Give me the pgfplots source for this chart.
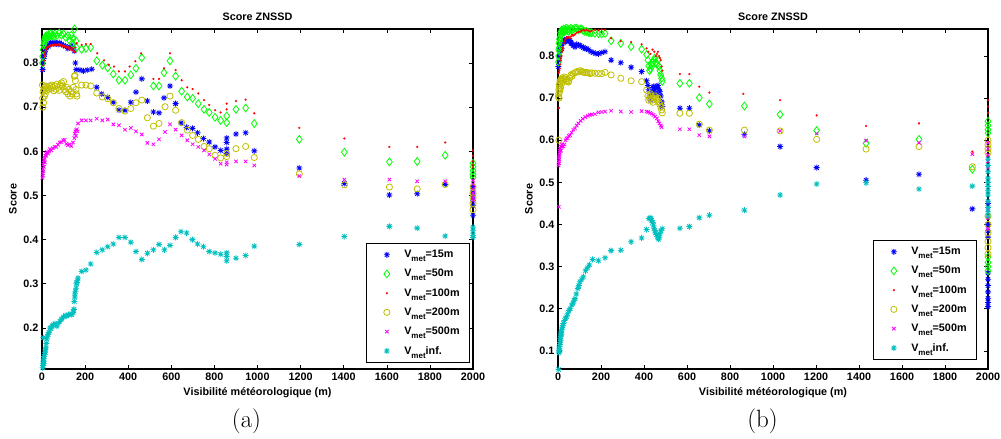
\documentclass[border=0pt]{standalone}
\usepackage{fontspec}
\usepackage{pgfplots}
\pgfplotsset{compat=1.18}
\newfontfamily\lsans{Liberation Sans}
\newcommand\cf{\lsans\bfseries\fontsize{10.8bp}{13bp}\selectfont}
\newcommand\met{\raisebox{-4bp}{\fontsize{8bp}{9bp}\selectfont met}}
\definecolor{myyel}{rgb}{0.75,0.75,0}
\definecolor{mycyan}{rgb}{0,0.75,0.75}
\definecolor{mgreen}{rgb}{0,1,0}
\definecolor{mmag}{rgb}{1,0,1}
\definecolor{mblue}{rgb}{0,0,1}
\definecolor{mred}{rgb}{1,0,0}
\pgfdeclareplotmark{mstar}{%
 \pgfpathmoveto{\pgfqpoint{-\pgfplotmarksize}{0pt}}\pgfpathlineto{\pgfqpoint{\pgfplotmarksize}{0pt}}%
 \pgfpathmoveto{\pgfqpoint{0pt}{-\pgfplotmarksize}}\pgfpathlineto{\pgfqpoint{0pt}{\pgfplotmarksize}}%
 \pgfpathmoveto{\pgfqpoint{-.707\pgfplotmarksize}{-.707\pgfplotmarksize}}\pgfpathlineto{\pgfqpoint{.707\pgfplotmarksize}{.707\pgfplotmarksize}}%
 \pgfpathmoveto{\pgfqpoint{-.707\pgfplotmarksize}{.707\pgfplotmarksize}}\pgfpathlineto{\pgfqpoint{.707\pgfplotmarksize}{-.707\pgfplotmarksize}}%
 \pgfusepathqstroke}
\pgfplotsset{
 myimg/.style={legend image code/.code={\path (0bp,0bp) (27bp,0bp); \draw[##1] plot coordinates {(12bp,0bp)};}},
 mstyle/.style={
  scale only axis, height=340bp, anchor=south west,
  xmin=0, xmax=2000, enlargelimits=false, clip=false,
  xtick={0,200,400,600,800,1000,1200,1400,1600,1800,2000},
  tick align=inside, xtick pos=both, ytick pos=both,
  xticklabel pos=lower, yticklabel pos=left,
  major tick length=4bp,
  axis line style={line width=1.1bp, black},
  tick style={line width=0.6bp, black},
  ticklabel style={font=\cf},
  xticklabel style={/pgf/number format/set thousands separator={}, /pgf/number format/assume math mode=true},
  yticklabel style={/pgf/number format/fixed, /pgf/number format/precision=1, /pgf/number format/fixed zerofill, /pgf/number format/assume math mode=true},
  title={Score ZNSSD}, title style={font=\cf, yshift=-1.5bp},
  xlabel={Visibilité météorologique (m)}, ylabel={Score},
  label style={font=\cf},
  xlabel style={yshift=-1bp},
  legend style={font=\cf, draw=black, line width=0.8bp, at={(1,0)}, anchor=south east,
     inner xsep=8bp, inner ysep=5bp, row sep=6.2bp, cells={anchor=west}},
 },
 s15/.style={only marks, myimg, mark=mstar, mark size=3bp, mblue, mark options={line width=0.8bp}},
 s50/.style={only marks, myimg, mark=diamond, mark size=3.9bp, mgreen, mark options={line width=0.8bp}},
 s100/.style={only marks, myimg, mark=*, mark size=1bp, mred, mark options={fill=mred, draw=mred, line width=0.2bp}},
 s200/.style={only marks, myimg, mark=o, mark size=3.1bp, myyel, mark options={line width=0.8bp}},
 s500/.style={only marks, myimg, mark=x, mark size=2.4bp, mmag, mark options={line width=0.8bp}},
 sinf/.style={only marks, myimg, mark=mstar, mark size=3bp, mycyan, mark options={line width=0.8bp}},
}
\begin{document}
\begin{tikzpicture}
\useasboundingbox (0,0) rectangle (1001bp,439bp);
% ---------------- panel (a) ----------------
\begin{axis}[mstyle, at={(42bp,70bp)}, width=431bp, ymin=0.107, ymax=0.877,
 ytick={0.2,0.3,0.4,0.5,0.6,0.7,0.8},
 legend style={xshift=-3bp, yshift=6bp}]
\addplot[s15] table[row sep=\\] {x y\\
3 0.785\\5 0.80\\7 0.81\\9 0.815\\11 0.82\\13 0.825\\16 0.83\\19 0.835\\22 0.836\\26 0.84\\30 0.838\\35 0.842\\40 0.845\\45 0.843\\50 0.846\\55 0.844\\60 0.847\\65 0.843\\70 0.845\\75 0.842\\80 0.846\\90 0.843\\100 0.840\\110 0.838\\120 0.833\\130 0.836\\136 0.84\\143 0.835\\150 0.827\\155 0.80\\159 0.785\\
176 0.784\\192 0.782\\210 0.784\\231 0.786\\254 0.745\\277 0.730\\305 0.722\\331 0.711\\357 0.693\\385 0.693\\412 0.711\\436 0.734\\463 0.764\\489 0.714\\517 0.689\\543 0.687\\566 0.721\\594 0.748\\620 0.708\\645 0.664\\671 0.654\\698 0.652\\722 0.642\\749 0.629\\776 0.621\\803 0.610\\829 0.602\\857 0.630\\857 0.620\\857 0.605\\857 0.595\\900 0.639\\945 0.642\\985 0.601\\1194 0.562\\1403 0.527\\1612 0.501\\1741 0.504\\1871 0.525\\
2000 0.52\\2000 0.51\\2000 0.50\\2000 0.489\\2000 0.477\\2000 0.455\\};
\addlegendentry{V\met=15m}
\addplot[s50] table[row sep=\\] {x y\\
2 0.80\\3 0.815\\5 0.83\\7 0.84\\9 0.85\\11 0.845\\13 0.855\\16 0.86\\19 0.855\\22 0.862\\26 0.858\\30 0.864\\35 0.86\\40 0.866\\45 0.861\\50 0.864\\55 0.86\\60 0.866\\70 0.862\\80 0.868\\90 0.863\\100 0.866\\110 0.858\\120 0.862\\130 0.85\\136 0.863\\140 0.845\\145 0.855\\151 0.877\\158 0.85\\160 0.835\\
184 0.831\\204 0.833\\226 0.835\\254 0.805\\280 0.795\\305 0.789\\331 0.775\\357 0.761\\385 0.761\\412 0.773\\436 0.788\\463 0.812\\517 0.748\\543 0.748\\566 0.778\\594 0.805\\620 0.770\\648 0.736\\674 0.723\\699 0.720\\725 0.708\\752 0.695\\776 0.688\\803 0.677\\829 0.670\\857 0.680\\857 0.665\\900 0.695\\945 0.698\\985 0.663\\1194 0.627\\1403 0.598\\1612 0.576\\1741 0.577\\1871 0.591\\
2000 0.573\\2000 0.565\\2000 0.556\\2000 0.548\\2000 0.541\\};
\addlegendentry{V\met=50m}
\addplot[s100] table[row sep=\\] {x y\\
5 0.783\\7 0.795\\9 0.805\\11 0.815\\13 0.82\\15 0.825\\18 0.83\\21 0.833\\25 0.836\\30 0.837\\35 0.838\\40 0.84\\45 0.839\\50 0.841\\55 0.84\\60 0.842\\65 0.84\\70 0.842\\75 0.841\\80 0.843\\85 0.84\\90 0.842\\95 0.838\\100 0.84\\105 0.837\\110 0.838\\115 0.835\\120 0.836\\125 0.832\\130 0.835\\135 0.83\\140 0.833\\145 0.828\\150 0.825\\155 0.835\\160 0.845\\
184 0.841\\204 0.843\\226 0.843\\256 0.822\\288 0.806\\310 0.796\\334 0.792\\357 0.781\\385 0.781\\407 0.792\\433 0.804\\460 0.822\\517 0.764\\543 0.764\\566 0.788\\594 0.822\\620 0.784\\648 0.761\\674 0.745\\699 0.741\\725 0.731\\752 0.716\\776 0.705\\803 0.693\\829 0.688\\857 0.708\\857 0.695\\900 0.714\\945 0.717\\985 0.686\\1194 0.653\\1403 0.629\\1612 0.610\\1741 0.610\\1871 0.620\\
2000 0.602\\2000 0.590\\2000 0.578\\2000 0.570\\2000 0.564\\};
\addlegendentry{V\met=100m}
\addplot[s200] table[row sep=\\] {x y\\
2 0.75\\3 0.72\\4 0.70\\5 0.735\\7 0.71\\9 0.74\\11 0.725\\13 0.745\\15 0.73\\18 0.748\\21 0.738\\25 0.745\\30 0.74\\35 0.748\\40 0.742\\45 0.75\\50 0.745\\55 0.737\\60 0.748\\65 0.74\\70 0.752\\75 0.745\\80 0.738\\85 0.75\\90 0.755\\95 0.748\\100 0.758\\105 0.74\\110 0.735\\115 0.745\\120 0.73\\125 0.74\\130 0.725\\135 0.735\\140 0.73\\145 0.745\\150 0.77\\153 0.772\\155 0.76\\158 0.74\\160 0.73\\162 0.725\\
184 0.750\\204 0.750\\226 0.748\\254 0.732\\280 0.723\\305 0.719\\331 0.710\\357 0.697\\385 0.691\\412 0.697\\436 0.710\\463 0.716\\489 0.676\\517 0.657\\543 0.663\\571 0.701\\594 0.725\\620 0.693\\648 0.665\\674 0.648\\699 0.636\\725 0.627\\752 0.611\\776 0.606\\803 0.591\\829 0.585\\857 0.595\\857 0.588\\900 0.606\\945 0.611\\985 0.586\\1194 0.549\\1403 0.524\\1612 0.519\\1741 0.515\\1871 0.525\\
2000 0.519\\2000 0.505\\2000 0.495\\2000 0.482\\2000 0.468\\};
\addlegendentry{V\met=200m}
\addplot[s500] table[row sep=\\] {x y\\
2 0.54\\3 0.55\\4 0.545\\5 0.56\\6 0.57\\7 0.555\\8 0.575\\9 0.565\\10 0.58\\12 0.585\\14 0.575\\16 0.59\\18 0.595\\20 0.59\\24 0.598\\28 0.595\\32 0.60\\36 0.605\\43 0.602\\50 0.607\\58 0.61\\66 0.61\\74 0.615\\82 0.62\\90 0.621\\98 0.625\\105 0.626\\113 0.617\\120 0.614\\128 0.616\\136 0.612\\144 0.62\\150 0.63\\152 0.64\\155 0.645\\157 0.635\\159 0.648\\162 0.65\\165 0.645\\167 0.663\\
184 0.670\\204 0.670\\226 0.670\\254 0.674\\280 0.670\\305 0.672\\331 0.661\\357 0.659\\385 0.649\\412 0.653\\436 0.645\\463 0.638\\489 0.619\\517 0.616\\543 0.627\\571 0.644\\594 0.661\\620 0.649\\648 0.636\\674 0.625\\699 0.616\\725 0.610\\752 0.602\\776 0.593\\803 0.583\\829 0.572\\857 0.575\\857 0.570\\900 0.577\\945 0.577\\985 0.568\\1194 0.544\\1403 0.536\\1612 0.536\\1741 0.532\\1871 0.532\\
2000 0.534\\2000 0.525\\2000 0.515\\2000 0.505\\2000 0.495\\2000 0.489\\};
\addlegendentry{V\met=500m}
\addplot[sinf] table[row sep=\\] {x y\\
3 0.11\\4 0.12\\5 0.115\\6 0.178\\7 0.125\\8 0.13\\9 0.12\\10 0.135\\12 0.14\\14 0.145\\16 0.15\\18 0.155\\20 0.165\\22 0.175\\25 0.18\\28 0.185\\32 0.19\\37 0.20\\42 0.198\\47 0.205\\53 0.207\\60 0.21\\68 0.204\\75 0.21\\83 0.215\\91 0.220\\100 0.225\\108 0.228\\115 0.227\\123 0.23\\130 0.231\\138 0.230\\145 0.235\\148 0.242\\150 0.26\\152 0.27\\153 0.277\\155 0.283\\158 0.29\\160 0.30\\162 0.303\\164 0.307\\167 0.313\\
184 0.328\\204 0.331\\226 0.345\\254 0.371\\280 0.377\\305 0.384\\331 0.390\\357 0.405\\385 0.405\\412 0.394\\436 0.373\\463 0.355\\489 0.369\\517 0.377\\543 0.389\\568 0.377\\594 0.387\\620 0.405\\645 0.418\\671 0.415\\698 0.400\\722 0.390\\749 0.384\\776 0.373\\803 0.370\\829 0.367\\857 0.370\\857 0.362\\857 0.352\\900 0.358\\945 0.364\\985 0.385\\1194 0.389\\1403 0.407\\1612 0.430\\1741 0.426\\1871 0.408\\
2000 0.428\\2000 0.42\\2000 0.41\\2000 0.405\\};
\addlegendentry{V\met inf.}
\end{axis}
% ---------------- panel (b) ----------------
\begin{axis}[mstyle, at={(558bp,70bp)}, width=430bp, ymin=0.057, ymax=0.864,
 ytick={0.1,0.2,0.3,0.4,0.5,0.6,0.7,0.8},
 legend style={xshift=-11bp, yshift=9bp}]
\addplot[s15] table[row sep=\\] {x y\\
2 0.775\\4 0.79\\6 0.80\\8 0.81\\10 0.815\\13 0.825\\17 0.817\\20 0.83\\25 0.835\\30 0.838\\33 0.833\\40 0.84\\45 0.838\\50 0.835\\56 0.837\\60 0.83\\64 0.829\\70 0.825\\79 0.821\\87 0.828\\95 0.826\\102 0.825\\110 0.822\\118 0.82\\125 0.818\\133 0.817\\141 0.815\\153 0.81\\164 0.808\\176 0.806\\188 0.805\\203 0.808\\219 0.810\\
247 0.790\\292 0.784\\340 0.773\\389 0.763\\412 0.741\\418 0.73\\422 0.72\\426 0.705\\430 0.695\\434 0.70\\438 0.715\\442 0.725\\446 0.728\\450 0.72\\455 0.71\\460 0.725\\465 0.73\\470 0.72\\474 0.715\\478 0.705\\482 0.691\\485 0.68\\567 0.676\\611 0.676\\657 0.636\\704 0.622\\867 0.614\\1033 0.585\\1203 0.535\\1433 0.505\\1679 0.519\\1927 0.437\\
2000 0.45\\2000 0.40\\2000 0.385\\2000 0.37\\2000 0.285\\2000 0.27\\2000 0.255\\2000 0.24\\2000 0.225\\2000 0.215\\2000 0.205\\};
\addlegendentry{V\met=15m}
\addplot[s50] table[row sep=\\] {x y\\
2 0.786\\3 0.80\\4 0.815\\5 0.83\\6 0.82\\7 0.84\\8 0.835\\9 0.81\\10 0.845\\12 0.855\\14 0.85\\16 0.858\\18 0.862\\20 0.855\\23 0.86\\26 0.864\\30 0.858\\34 0.862\\38 0.866\\42 0.86\\46 0.864\\50 0.858\\55 0.862\\60 0.866\\65 0.86\\70 0.864\\78 0.866\\87 0.866\\95 0.862\\103 0.864\\110 0.864\\118 0.86\\125 0.858\\133 0.858\\141 0.856\\149 0.855\\157 0.855\\172 0.854\\188 0.853\\203 0.852\\219 0.853\\
247 0.836\\292 0.830\\340 0.822\\389 0.816\\412 0.803\\418 0.79\\422 0.776\\426 0.765\\430 0.77\\434 0.78\\438 0.776\\442 0.785\\446 0.79\\450 0.795\\455 0.785\\460 0.78\\465 0.79\\470 0.775\\474 0.765\\478 0.755\\482 0.747\\485 0.740\\567 0.735\\611 0.735\\657 0.701\\704 0.686\\867 0.681\\1033 0.661\\1203 0.623\\1433 0.593\\1679 0.602\\1927 0.531\\
2000 0.645\\2000 0.635\\2000 0.625\\2000 0.617\\2000 0.323\\2000 0.31\\2000 0.30\\2000 0.29\\};
\addlegendentry{V\met=50m}
\addplot[s100] table[row sep=\\] {x y\\
4 0.76\\5 0.677\\6 0.765\\8 0.77\\10 0.78\\12 0.79\\14 0.795\\16 0.80\\18 0.81\\20 0.815\\23 0.82\\26 0.83\\30 0.835\\34 0.84\\38 0.842\\42 0.845\\46 0.843\\50 0.845\\55 0.842\\60 0.846\\65 0.85\\70 0.848\\75 0.85\\80 0.852\\87 0.855\\95 0.857\\103 0.858\\110 0.86\\118 0.862\\125 0.86\\133 0.862\\141 0.86\\149 0.858\\157 0.86\\172 0.862\\188 0.861\\203 0.863\\219 0.862\\
247 0.842\\292 0.835\\340 0.833\\389 0.828\\412 0.818\\420 0.81\\430 0.805\\440 0.815\\448 0.81\\455 0.80\\460 0.805\\465 0.81\\470 0.80\\474 0.795\\478 0.79\\482 0.775\\485 0.765\\567 0.757\\611 0.757\\657 0.727\\704 0.713\\862 0.710\\1033 0.695\\1203 0.659\\1433 0.634\\1679 0.640\\1927 0.573\\
2000 0.695\\2000 0.68\\2000 0.665\\};
\addlegendentry{V\met=100m}
\addplot[s200] table[row sep=\\] {x y\\
2 0.703\\3 0.71\\4 0.600\\4 0.72\\5 0.70\\6 0.73\\7 0.715\\8 0.735\\9 0.72\\10 0.74\\12 0.725\\14 0.745\\17 0.742\\18 0.735\\20 0.748\\23 0.74\\26 0.745\\30 0.75\\34 0.745\\38 0.742\\42 0.74\\48 0.738\\50 0.74\\55 0.748\\60 0.755\\65 0.752\\70 0.758\\78 0.76\\87 0.763\\95 0.762\\103 0.765\\110 0.763\\118 0.762\\125 0.76\\133 0.761\\141 0.76\\149 0.758\\157 0.760\\172 0.759\\188 0.758\\203 0.758\\219 0.761\\
247 0.755\\292 0.747\\340 0.741\\389 0.739\\412 0.719\\418 0.705\\422 0.695\\426 0.70\\430 0.71\\434 0.705\\438 0.695\\442 0.69\\446 0.70\\450 0.705\\455 0.70\\460 0.695\\465 0.70\\470 0.69\\474 0.685\\478 0.68\\482 0.672\\485 0.665\\567 0.664\\611 0.664\\657 0.638\\704 0.624\\867 0.624\\1033 0.622\\1203 0.602\\1433 0.579\\1679 0.585\\1927 0.537\\
2000 0.60\\2000 0.59\\2000 0.58\\2000 0.57\\2000 0.42\\2000 0.40\\2000 0.38\\2000 0.36\\2000 0.345\\2000 0.33\\};
\addlegendentry{V\met=200m}
\addplot[s500] table[row sep=\\] {x y\\
2 0.54\\3 0.55\\4 0.442\\4 0.56\\5 0.545\\6 0.555\\7 0.565\\8 0.57\\9 0.575\\10 0.58\\12 0.585\\14 0.575\\16 0.585\\18 0.59\\20 0.585\\25 0.585\\30 0.59\\35 0.60\\40 0.604\\45 0.605\\50 0.61\\56 0.612\\63 0.618\\71 0.625\\79 0.628\\87 0.635\\95 0.64\\105 0.646\\115 0.651\\127 0.655\\138 0.658\\148 0.66\\157 0.661\\172 0.662\\188 0.666\\203 0.667\\219 0.668\\
247 0.670\\292 0.668\\340 0.667\\389 0.669\\412 0.668\\420 0.667\\428 0.665\\436 0.663\\444 0.66\\452 0.656\\460 0.652\\466 0.645\\472 0.64\\478 0.635\\482 0.631\\567 0.626\\611 0.626\\657 0.612\\704 0.609\\867 0.609\\1033 0.622\\1203 0.616\\1433 0.599\\1679 0.594\\1927 0.567\\
2000 0.594\\2000 0.58\\2000 0.565\\2000 0.55\\2000 0.535\\2000 0.455\\2000 0.435\\2000 0.415\\2000 0.39\\};
\addlegendentry{V\met=500m}
\addplot[sinf] table[row sep=\\] {x y\\
3 0.056\\4 0.10\\5 0.095\\6 0.105\\7 0.11\\8 0.10\\9 0.115\\10 0.12\\11 0.13\\12 0.125\\13 0.135\\14 0.14\\15 0.145\\16 0.14\\18 0.15\\20 0.155\\22 0.16\\25 0.165\\30 0.172\\35 0.178\\40 0.181\\45 0.188\\51 0.196\\57 0.20\\64 0.209\\70 0.213\\75 0.22\\79 0.224\\85 0.235\\92 0.248\\97 0.255\\102 0.264\\110 0.27\\118 0.276\\128 0.29\\137 0.297\\146 0.304\\161 0.317\\188 0.314\\219 0.321\\247 0.338\\292 0.339\\340 0.359\\389 0.368\\412 0.388\\423 0.414\\428 0.416\\432 0.414\\436 0.41\\440 0.405\\444 0.398\\447 0.39\\451 0.385\\454 0.38\\458 0.376\\462 0.372\\465 0.368\\468 0.365\\471 0.37\\474 0.378\\478 0.385\\485 0.39\\567 0.391\\611 0.395\\657 0.416\\704 0.422\\867 0.434\\1033 0.470\\1203 0.496\\1433 0.499\\1679 0.484\\1927 0.491\\
2000 0.555\\2000 0.54\\2000 0.525\\2000 0.51\\2000 0.50\\2000 0.49\\2000 0.48\\2000 0.47\\2000 0.455\\2000 0.44\\2000 0.43\\2000 0.42\\};
\addlegendentry{V\met inf.}
\end{axis}
\node[anchor=base, font=\fontsize{25bp}{30bp}\selectfont] at (246.5bp,12bp) {(a)};
\node[anchor=base, font=\fontsize{25bp}{30bp}\selectfont] at (762.5bp,12bp) {(b)};
\end{tikzpicture}
\end{document}
